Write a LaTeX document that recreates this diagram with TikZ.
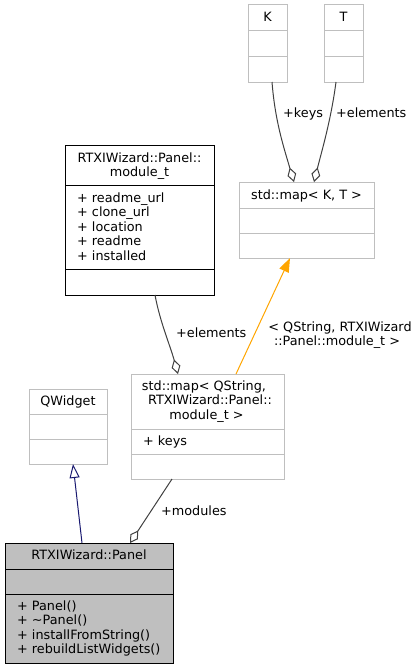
\documentclass[tikz,border=0pt]{standalone}
\usepackage{fontspec}
\setmainfont{DejaVu Sans}
\usetikzlibrary{arrows.meta}
\definecolor{gbor}{HTML}{BFBFBF}
\definecolor{gedge}{HTML}{404040}
\definecolor{mnavy}{HTML}{191970}
\definecolor{dorange}{HTML}{FFA500}
\begin{document}
\begin{tikzpicture}[x=1pt,y=-1pt,
  gbox/.style={draw=gbor, line width=1pt, inner sep=0, outer sep=0, anchor=north west},
  bbox/.style={draw=black, line width=1pt, inner sep=0, outer sep=0, anchor=north west},
  gdiv/.style={draw=gbor, line width=1pt},
  bdiv/.style={draw=black, line width=1pt},
  txt/.style={inner sep=0, font=\fontsize{12.8}{14.5}\selectfont, anchor=base},
  ltxt/.style={txt, anchor=base west},
  agg/.style={draw=gedge, line width=1pt, -{Diamond[open, length=15pt, width=9pt, fill=white]}},
  inh/.style={draw=mnavy, line width=1pt, -{Triangle[open, length=14pt, width=10pt, fill=white]}},
  tmpl/.style={draw=dorange, line width=1pt, -{Triangle[length=14pt, width=10pt, fill=dorange]}}
]
\useasboundingbox (0,0) rectangle (419,669);

% K
\node[gbox, minimum width=39pt, minimum height=77pt] (K) at (248,5) {};
\draw[gdiv] (248,31) -- (287,31);
\draw[gdiv] (248,57) -- (287,57);
\node[txt] (Kt) at (267.5,22) {K};

% T
\node[gbox, minimum width=39pt, minimum height=77pt] (T) at (324,5) {};
\draw[gdiv] (324,31) -- (363,31);
\draw[gdiv] (324,57) -- (363,57);
\node[txt] (Tt) at (343.5,22) {T};

% std::map< K, T >
\node[gbox, minimum width=135pt, minimum height=76pt] (mapKT) at (239,182) {};
\draw[gdiv] (239,208) -- (374,208);
\draw[gdiv] (239,233) -- (374,233);
\node[txt] (mapKTt) at (306.5,199) {std::map< K, T >};

% module_t
\node[bbox, minimum width=149pt, minimum height=150pt] (mod) at (65,145) {};
\draw[bdiv] (65,185) -- (214,185);
\draw[bdiv] (65,269) -- (214,269);
\node[txt] (modt1) at (139.5,162) {RTXIWizard::Panel::};
\node[txt] (modt2) at (139.5,176.5) {module\_t};
\node[ltxt] (moda1) at (77,202) {+ readme\_url};
\node[ltxt] (moda2) at (77,216.5) {+ clone\_url};
\node[ltxt] (moda3) at (77,231) {+ location};
\node[ltxt] (moda4) at (77,245.5) {+ readme};
\node[ltxt] (moda5) at (77,260) {+ installed};

% QWidget
\node[gbox, minimum width=78pt, minimum height=75pt] (QW) at (29,389) {};
\draw[gdiv] (29,414) -- (107,414);
\draw[gdiv] (29,439) -- (107,439);
\node[txt] (QWt) at (68,405) {QWidget};

% std::map< QString, module_t >
\node[gbox, minimum width=153pt, minimum height=105pt] (mapQS) at (131,374) {};
\draw[gdiv] (131,429) -- (284,429);
\draw[gdiv] (131,454) -- (284,454);
\node[txt] (mapQSt1) at (204,390) {std::map< QString,};
\node[txt] (mapQSt2) at (210,404.5) {RTXIWizard::Panel::};
\node[txt] (mapQSt3) at (206.5,419) {module\_t >};
\node[ltxt] (mapQSa1) at (143,445) {+ keys};

% Panel
\node[bbox, fill=gbor, minimum width=168pt, minimum height=120pt] (Panel) at (5,543) {};
\draw[bdiv] (5,569) -- (173,569);
\draw[bdiv] (5,594) -- (173,594);
\node[txt] (Pant) at (89,559) {RTXIWizard::Panel};
\node[ltxt] (Panm1) at (17,610) {+ Panel()};
\node[ltxt] (Panm2) at (17,624.5) {+ \char"223C Panel()};
\node[ltxt] (Panm3) at (17,639) {+ installFromString()};
\node[ltxt] (Panm4) at (17,653.5) {+ rebuildListWidgets()};

% connectors
\draw[agg] ([xshift=24pt]K.south west) .. controls (275,120) and (283,145) .. ([xshift=55pt]mapKT.north west);
\node[ltxt] (lkeys) at (283,117) {+keys};

\draw[agg] ([xshift=12pt]T.south west) .. controls (331,120) and (322,150) .. ([xshift=75pt]mapKT.north west);
\node[ltxt] (lelemT) at (336,117) {+elements};

\draw[agg] ([xshift=90pt]mod.south west) .. controls (160,322) and (170,345) .. ([xshift=47pt]mapQS.north west);
\node[ltxt] (lelemM) at (176,337.5) {+elements};

\draw[tmpl] ([xshift=105pt]mapQS.north west) -- ([xshift=51pt]mapKT.south west);
\node[txt] (ltmpl1) at (340,331.5) {< QString, RTXIWizard};
\node[txt] (ltmpl2) at (337,345) {::Panel::module\_t >};

\draw[inh] ([xshift=77pt]Panel.north west) -- ([xshift=44pt]QW.south west);

\draw[agg] ([xshift=41pt]mapQS.south west) -- ([xshift=125pt]Panel.north west);
\node[ltxt] (lmod) at (161,515) {+modules};
\end{tikzpicture}
\end{document}
